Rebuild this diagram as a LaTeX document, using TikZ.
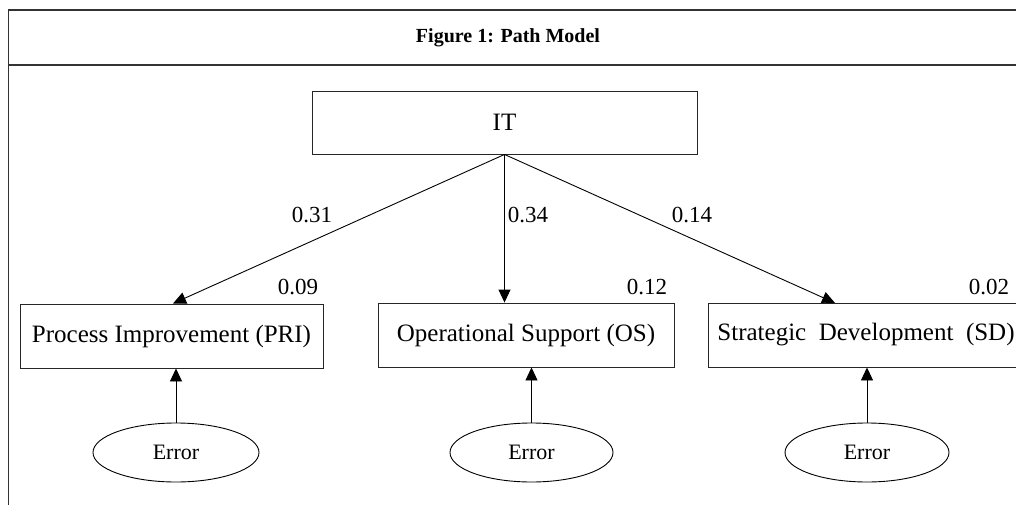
\documentclass[tikz,border=0pt]{standalone}
\usepackage{fontspec}
\setmainfont{Liberation Serif}
\usetikzlibrary{arrows.meta,shapes.geometric}
\begin{document}
\begin{tikzpicture}[x=1pt,y=-1pt,
  frame/.style={line width=1.3pt,draw=black!80},
  var/.style={draw=black!85,line width=0.9pt,rectangle,inner sep=0pt,minimum height=64pt,font=\fontsize{25}{28}\selectfont},
  err/.style={draw,line width=0.9pt,ellipse,inner sep=0pt,minimum height=59pt,font=\fontsize{22}{26}\selectfont},
  num/.style={font=\fontsize{23}{26}\selectfont,inner sep=0pt},
  path/.style={line width=0.9pt,-{Triangle[length=13pt,width=12pt]}}]
\useasboundingbox (0,0) rectangle (1016,505);
\clip (0,0) rectangle (1016,505);
% frame
\coordinate (tl) at (8.5,10);
\coordinate (tr) at (1018,10);
\coordinate (sl) at (8.5,65);
\coordinate (sr) at (1018,65);
\coordinate (bl) at (8.5,506);
\draw[frame] (tr) -- (tl) -- (bl);
\draw[frame] (sl) -- (sr);
\node[font=\fontsize{20}{24}\selectfont\bfseries] (title) at (508,37.5) {Figure 1: Path Model};
% variables
\node[var,minimum width=385pt,minimum height=63pt] (IT) at (504.5,122.5) {IT};
\node[var,minimum width=303pt] (PRI) at (171.5,336) {Process Improvement (PRI)};
\node[var,minimum width=296pt] (OS) at (526,335) {Operational Support (OS)};
\node[var,minimum width=316pt] (SD) at (866,335) {Strategic\ \ Development\ \ (SD)\hspace{14pt}};
% errors
\node[err,minimum width=166pt] (E1) at (176,452.5) {Error};
\node[err,minimum width=163pt] (E2) at (531.5,452.5) {Error};
\node[err,minimum width=164pt] (E3) at (867,452.5) {Error};
% paths
\coordinate (tPRI) at (173,303.5);
\coordinate (tSD) at (835,303);
\draw[path] (IT.south) -- (tPRI);
\draw[path] (IT.south) -- (IT.south |- OS.north);
\draw[path] (IT.south) -- (tSD);
\draw[path] (E1.north) -- (E1.north |- PRI.south);
\draw[path] (E2.north) -- (E2.north |- OS.south);
\draw[path] (E3.north) -- (E3.north |- SD.south);
% coefficients
\node[num] (c1) at (312,215) {0.31};
\node[num] (c2) at (528,215) {0.34};
\node[num] (c3) at (692,215) {0.14};
\node[num] (r1) at (298,287) {0.09};
\node[num] (r2) at (647,287) {0.12};
\node[num] (r3) at (989,287) {0.02};
\end{tikzpicture}
\end{document}
